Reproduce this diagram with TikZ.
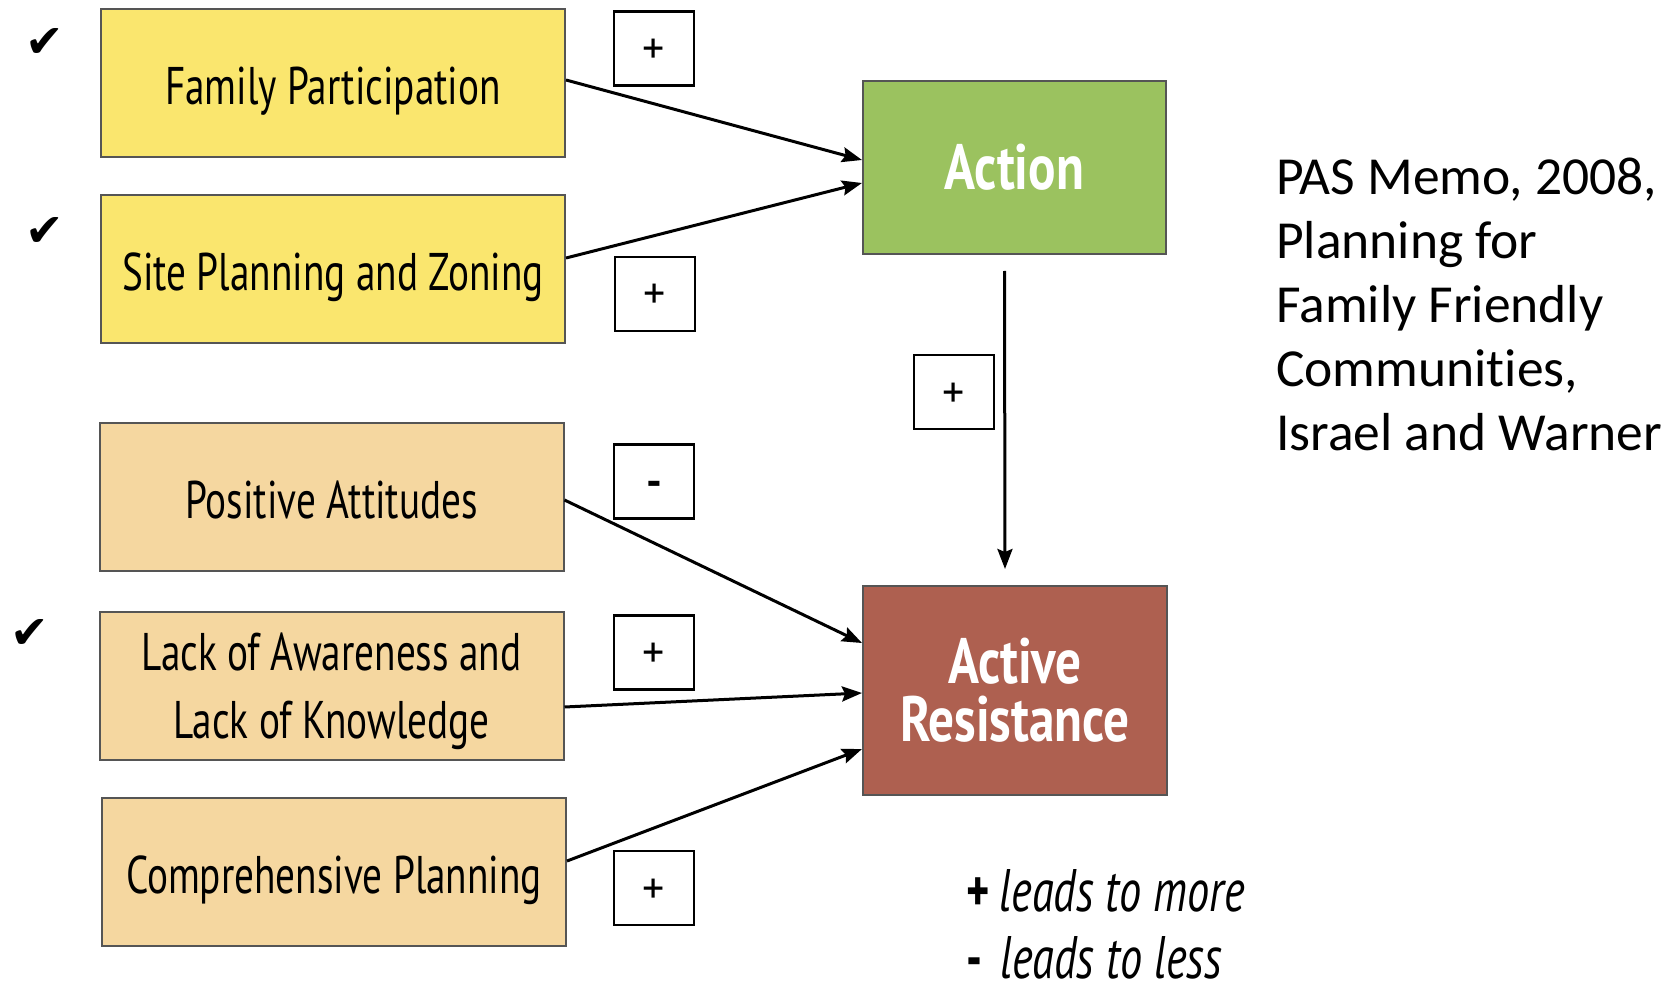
\documentclass[tikz,border=0pt]{standalone}
\usepackage{fontspec}
\setmainfont{PT Sans}
\newfontfamily\cond[FakeStretch=0.74]{PT Sans}
\newfontfamily\condb[FakeStretch=0.8]{PT Sans Bold}
\newfontfamily\calib[Ligatures=NoCommon]{Carlito}
\newfontfamily\sym{DejaVu Sans}
\usetikzlibrary{arrows.meta,calc}
\definecolor{yel}{RGB}{250,230,110}
\definecolor{tan}{RGB}{245,215,160}
\definecolor{grn}{RGB}{155,194,95}
\definecolor{brn}{RGB}{174,96,80}
\definecolor{bord}{RGB}{85,85,85}
\tikzset{
  fbox/.style={draw=bord, line width=2pt, inner sep=0pt, minimum width=464pt, minimum height=148pt, align=center, font=\cond\fontsize{53}{68}\selectfont},
  one/.style={text height=44pt, text depth=0pt},
  yelbox/.style={fbox, fill=yel},
  tanbox/.style={fbox, fill=tan},
  outbox/.style={draw=bord, line width=2pt, inner sep=0pt, align=center, text=white, font=\condb\fontsize{64}{58}\selectfont},
  signbox/.style={draw=black, line width=2.2pt, inner sep=0pt, minimum width=80pt, minimum height=74pt, text height=30pt, text depth=0pt, font=\fontsize{44}{44}\selectfont},
  arr/.style={line width=3pt, -{Stealth[length=20pt,width=15pt,inset=3pt]}},
  chk/.style={font=\sym\fontsize{46}{46}\selectfont, inner sep=0pt}
}
\begin{document}
\begin{tikzpicture}[x=1pt,y=-1pt]
\useasboundingbox (0,0) rectangle (1671,984);
\fill[white] (0,0) rectangle (1671,984);
% check marks
\node[chk] (c1) at (45,43) {✔};
\node[chk] (c2) at (45,232) {✔};
\node[chk] (c3) at (30,634) {✔};
% factor boxes
\node[yelbox, one] (fp) at (333,83) {Family Participation};
\node[yelbox, one] (sp) at (333,269) {Site Planning and Zoning};
\node[tanbox, one] (pa) at (331.5,496.5) {Positive Attitudes};
\node[tanbox] (la) at (331.5,685.5) {\rule{0pt}{50pt}Lack of Awareness and\\Lack of Knowledge};
\node[tanbox, one] (cp) at (334,871.5) {Comprehensive Planning};
% outcome boxes
\node[outbox, fill=grn, minimum width=303pt, minimum height=173pt] (act) at (1014.5,167.5) {Action};
\node[outbox, fill=brn, minimum width=304pt, minimum height=209pt] (ar) at (1015,690.5) {Active\\Resistance};
% sign boxes
\node[signbox] (s1) at (654,48.5) {+};
\node[signbox] (s2) at (655,294) {+};
\node[signbox] (s3) at (654,481.5) {\bfseries -};
\node[signbox] (s4) at (654,652.5) {+};
\node[signbox] (s5) at (654,888) {+};
\node[signbox] (s6) at (954,392) {+};
% arrows
\draw[arr] ([yshift=3pt]fp.east) -- ([yshift=7.5pt]act.west);
\draw[arr] ([yshift=11pt]sp.east) -- ([yshift=-15.5pt]act.west);
\draw[arr] ([xshift=-10pt,yshift=-16pt]act.south) -- ([xshift=-10pt,yshift=16pt]ar.north);
\draw[arr] ([yshift=-3.5pt]pa.east) -- ([yshift=47.5pt]ar.west);
\draw[arr] ([yshift=-21.5pt]la.east) -- ([yshift=-2.5pt]ar.west);
\draw[arr] ([yshift=10.5pt]cp.east) -- ([yshift=-58.5pt]ar.west);
% legend
\node[anchor=base west, inner sep=0pt, font=\cond\fontsize{60}{60}\selectfont] (lg1) at (966,911) {\textbf{+}\hspace{10pt}\itshape leads to more};
\node[anchor=base west, inner sep=0pt, font=\cond\fontsize{60}{60}\selectfont] (lg2) at (966,978) {\textbf{-}\hspace{18pt}\itshape leads to less};
% citation
\node[anchor=north west, inner sep=0pt, align=left, font=\calib\fontsize{53.5}{64}\selectfont] (cite) at (1276,158) {PAS Memo, 2008,\\Planning for\\Family Friendly\\Communities,\\Israel and Warner};
\end{tikzpicture}
\end{document}
